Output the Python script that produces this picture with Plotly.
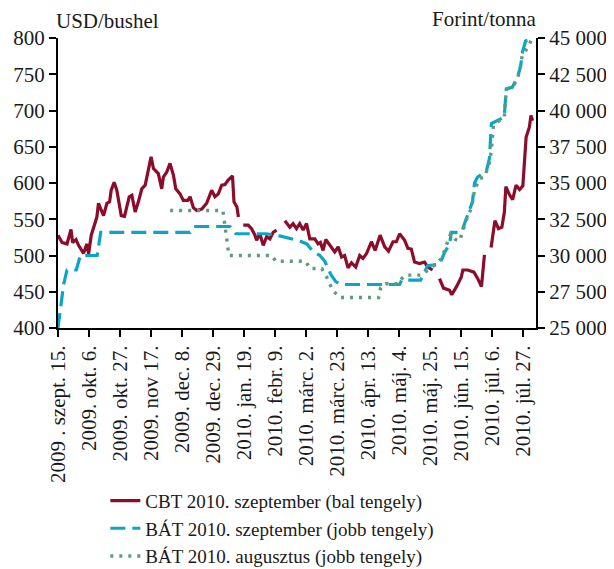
import pandas as pd
import plotly.graph_objects as go

START = pd.Timestamp("2009-09-15")

# CBT 2010 szeptember (USD/bushel) - day offset from 2009-09-15, None = gap
cbt_day = [0, 2.7, 6.1, 8.8, 9.9, 12.2, 13.9, 16.2, 17.3, 19.6, 20.7, 22.5, 24.0, 26.3, 27.4, 29.0,
           30.8, 33.1, 34.9, 36.0, 38.0, 39.8, 41.4, 42.8, 45.0, 46.6, 48.2, 50.0, 52.2, 54.4, 56.7,
           59.0, 61.2, 63.0, 64.6, 67.9, 70.2, 71.3, 73.6, 75.8, 78.1, 79.7, 82.6, 84.8, 87.8, 89.4,
           91.6, 93.9, 97.3, 100.6, 104.0, 106.2, 108.5, 110.8, 113.0, 115.2, 118.1, 119.1, 121.1,
           122.1, 123.5, 125.4, 128.7, 131.0, 133.3, 134.4, 136.6, 138.9, 141.2, 143.4, 145.6, 147.9,
           150.5, 153.5, 156.9, 159.1, 161.4, 163.6, 165.9, 168.2, 170.4, 173.8, 176.0, 177.6, 179.4,
           181.2, 185.1, 187.3, 189.6, 191.9, 194.0, 196.3, 198.6, 201.5, 204.2, 206.4, 208.9, 212.1,
           214.6, 218.0, 221.1, 223.7, 226.7, 229.0, 231.2, 234.6, 236.8, 239.1, 241.3, 244.7, 248.1,
           250.3, 253.5, 256.0, 258.2, 260.9, 265.0, 266.5, 269.7, 272.9, 274.0, 277.3, 281.5, 284.1,
           286.6, 288.6, 290.8, 293.1, 295.7, 298.1, 300.4, 302.1, 303.1, 305.5, 307.7, 310.0, 312.4,
           314.6, 315.6, 316.8, 319.0, 320.1, 321.2]
cbt_val = [528, 518, 516, 536, 518, 522, 514, 505, 503, 516, 502, 528, 537, 553, 572, 565,
           555, 572, 574, 590, 601, 590, 572, 555, 554, 569, 581, 583, 560, 574, 592,
           597, 620, 636, 620, 613, 592, 608, 615, 627, 611, 592, 585, 576, 576, 581,
           566, 562, 564, 572, 590, 581, 585, 597, 598, 604, 610, 574, 567,
           553, None, 542, 542, 537, 528, 521, 530, 514, 526, 523, 532, 535,
           None, 548, 539, 544, 537, 544, 535, 544, 523, 523, 516, 518, 507,
           522, 510, 505, 512, 498, 500, 483, 490, 484, 500, 496, 503, 519,
           507, 528, 512, 506, 519, 519, 530, 521, 510, 509, 491, 489, 491,
           484, 480, None, 468, 455, 452, 446, 457, 470, 480, 480, 477, 468,
           457, 501, None, 511, 548, 537, 539, 560, 595, 584, 577, 597, 591,
           596, 624, 663, 677, 693, 686]

# BÁT 2010 szeptember (Forint/tonna)
bat_sep_day = [0, 1.6, 3.8, 6.1, 12.4, 15.1, 26.5, 28.9, 89.4, 92.0, 116.4, 120.4, 140.7, 148.1,
               156.9, 163.6, 168.4, 172.4, 177.2, 180.6, 184.6, 188.0, 191.3, 231.2, 232.6, 245.4,
               250.2, 258.3, 261.6, 265.0, 266.3, 273.1, 275.8, 278.5, 280.5, 281.9, 283.9, 287.3,
               290.0, 292.0, 293.3, 302.0, 302.8, 303.4, 307.4, 309.6, 311.0, 313.0, 314.3, 316.4,
               320.4]
bat_sep_val = [25000, 26200, 28000, 29000, 29000, 30000, 30000, 31600, 31600, 32000, 32000, 31500,
               31500, 31400, 31200, 31000, 30800, 30300, 30000, 29600, 28700, 28200, 28000, 28000,
               28300, 28300, 29300, 29400, 30200, 30800, 31600, 31600, 32400, 33100, 33700, 35000,
               35400, 35650, 35850, 36700, 39100, 39550, 41250, 41500, 41600, 42000, 42300, 43000,
               44000, 44800, 44950]

# BÁT 2010 augusztus (Forint/tonna)
bat_aug_day = [75.9, 111.6, 113.7, 115.7, 144.7, 147.4, 167.7, 170.4, 178.5, 181.9, 185.9, 190.7,
               217.0, 218.4, 221.7, 230.5, 232.6, 235.3, 246.1, 252.2, 256.2, 259.6, 263.0, 265.7,
               269.0, 271.8, 276.5, 279.9, 281.9, 285.2, 288.6, 292.0, 293.3, 294.7, 302.1, 302.8,
               304.1, 307.5, 310.2, 312.2, 314.2, 317.6, 320.3]
bat_aug_val = [33100, 33100, 31500, 30000, 30000, 29600, 29600, 29100, 29100, 28500, 27600, 27100,
               27100, 27800, 28050, 28050, 28400, 28650, 28650, 29100, 29450, 29800, 30800, 31500,
               31100, 31000, 32500, 33300, 34500, 35300, 35400, 36400, 37250, 39000, 39550, 40800,
               41500, 41600, 42050, 42600, 43800, 44300, 44850]

tick_day = [0, 21, 42, 63, 84, 105, 126, 147, 168, 189, 210, 231, 252, 273, 294, 315]
tick_text = ["2009 . szept. 15.", "2009. okt. 6.", "2009. okt. 27.", "2009. nov 17.",
             "2009. dec. 8.", "2009. dec. 29.", "2010. jan. 19.", "2010. febr. 9.",
             "2010. márc. 2.", "2010. márc. 23.", "2010. ápr. 13.", "2010. máj. 4.",
             "2010. máj. 25.", "2010. jún. 15.", "2010. júl. 6.", "2010. júl. 27."]

left_ticks = [400, 450, 500, 550, 600, 650, 700, 750, 800]
right_ticks = [25000, 27500, 30000, 32500, 35000, 37500, 40000, 42500, 45000]
right_text = ["25 000", "27 500", "30 000", "32 500", "35 000", "37 500", "40 000", "42 500", "45 000"]


def to_dates(days):
    return [START + pd.to_timedelta(d, unit="D") for d in days]


FONT = "Liberation Serif"
FS = 21
TXT = "#1a1a1a"
fig = go.Figure()
fig.add_trace(go.Scatter(x=to_dates(cbt_day), y=cbt_val, mode="lines",
                         name="CBT 2010. szeptember (bal tengely)",
                         line=dict(color="#8c0c2c", width=3.2), connectgaps=False))
fig.add_trace(go.Scatter(x=to_dates(bat_sep_day), y=bat_sep_val, mode="lines", yaxis="y2",
                         name="BÁT 2010. szeptember (jobb tengely)",
                         line=dict(color="#0aa6c8", width=3.2, dash="15px,7px")))
fig.add_trace(go.Scatter(x=to_dates(bat_aug_day), y=bat_aug_val, mode="lines", yaxis="y2",
                         name="BÁT 2010. augusztus (jobb tengely)",
                         line=dict(color="#5e9a7c", width=3.4, dash="3px,6px")))

axis_common = dict(showline=True, linecolor="black", linewidth=2,
                   ticks="outside", ticklen=7, tickwidth=2, tickcolor="black",
                   showgrid=False, zeroline=False, automargin=False,
                   tickfont=dict(family=FONT, size=FS, color=TXT))

# page body adds an 8px offset, so the figure is sized to fit the 614x569 window
fig.update_layout(
    width=606, height=561,
    margin=dict(l=50, r=78, t=30, b=241, autoexpand=False),
    paper_bgcolor="white", plot_bgcolor="white",
    font=dict(family=FONT, size=FS, color=TXT),
    showlegend=True,
    legend=dict(x=0.099, y=-0.530, xanchor="left", yanchor="top",
                font=dict(family=FONT, size=19, color=TXT),
                bgcolor="rgba(0,0,0,0)", tracegroupgap=0),
    xaxis=dict(type="date",
               range=[START, START + pd.to_timedelta(323.5, unit="D")],
               tickvals=to_dates(tick_day), ticktext=tick_text, tickangle=-90,
               **axis_common),
    yaxis=dict(range=[400, 800], tickvals=left_ticks, **axis_common),
    yaxis2=dict(range=[25000, 45000], tickvals=right_ticks, ticktext=right_text,
                overlaying="y", side="right", **axis_common),
    annotations=[
        dict(text="USD/bushel", xref="paper", yref="paper", x=0.0, y=1.0,
             xanchor="left", yanchor="bottom", showarrow=False, xshift=-4, yshift=3,
             font=dict(family=FONT, size=FS, color=TXT)),
        dict(text="Forint/tonna", xref="paper", yref="paper", x=1.0, y=1.0,
             xanchor="right", yanchor="bottom", showarrow=False, xshift=3, yshift=5,
             font=dict(family=FONT, size=FS, color=TXT)),
    ],
)

fig.write_html("out.html")
